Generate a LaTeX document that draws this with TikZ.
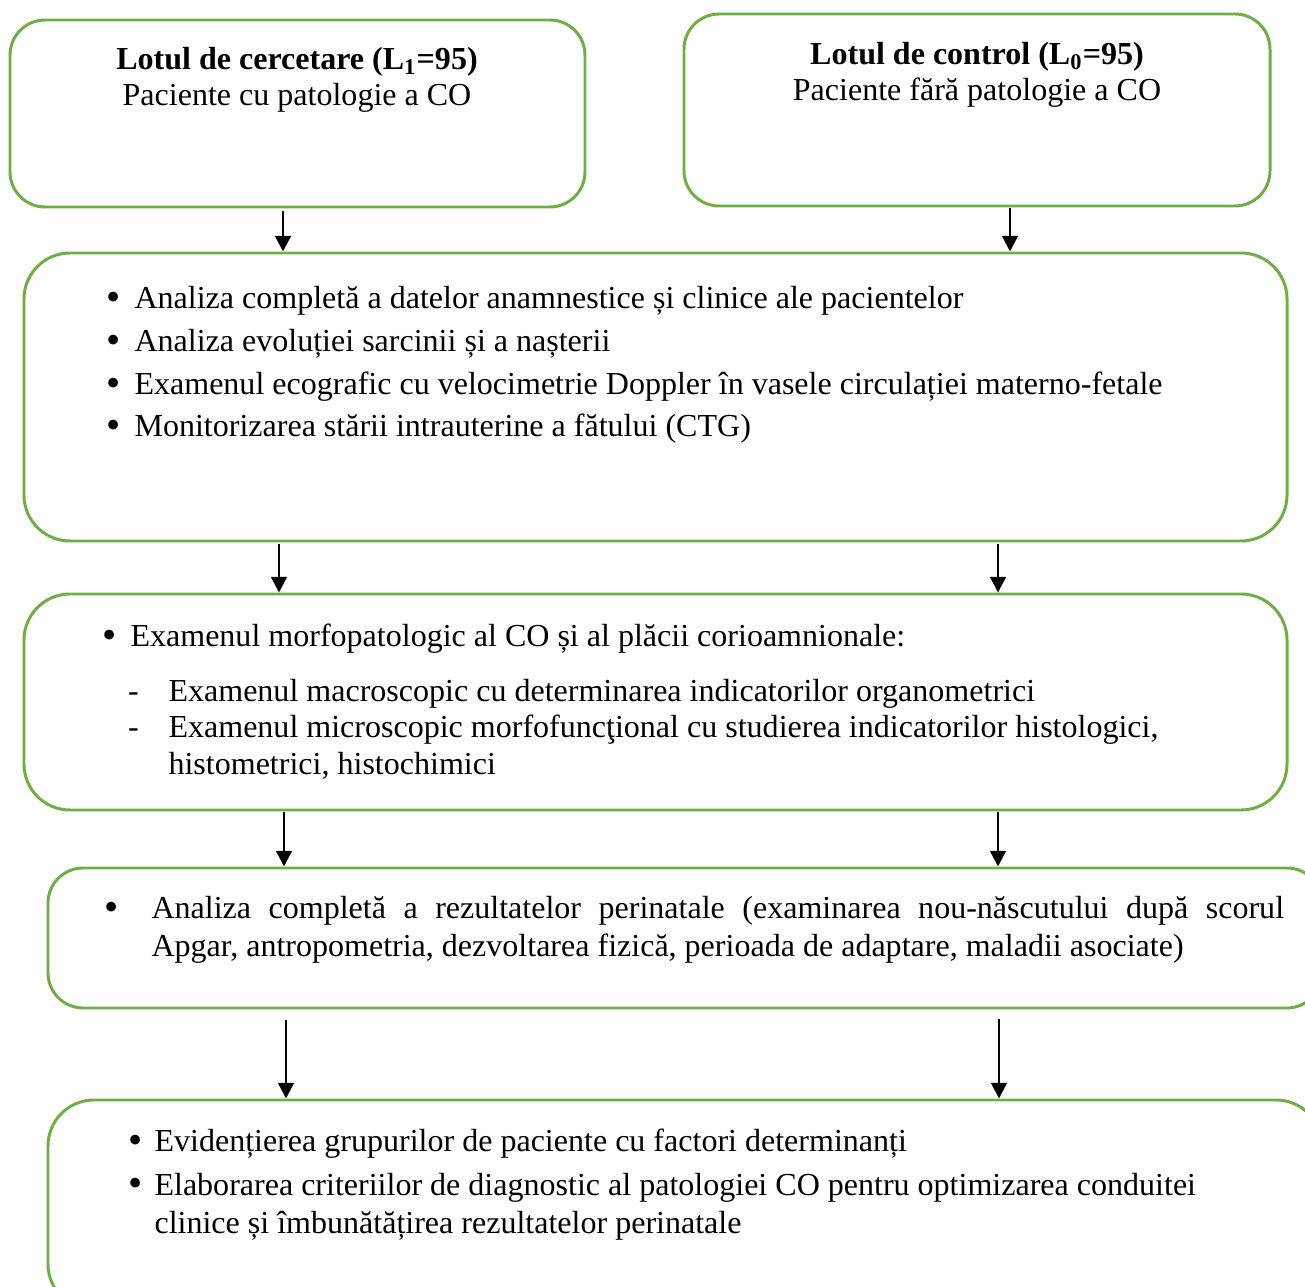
\documentclass[tikz,border=0pt]{standalone}
\usepackage{fontspec}
\setmainfont{Liberation Serif}
\usetikzlibrary{arrows.meta,fit}
\definecolor{boxgreen}{HTML}{70AD47}
\tikzset{
  box/.style={draw=boxgreen, line width=1.1pt, rounded corners=13pt, inner sep=0pt},
  bigbox/.style={box, rounded corners=17pt},
  arr/.style={-{Triangle[length=5.8pt,width=5.8pt]}, line width=0.9pt},
  txt/.style={inner sep=0pt, anchor=base west, font=\fontsize{11.85}{14}\selectfont},
  head/.style={inner sep=0pt, anchor=base, font=\fontsize{11.85}{14}\selectfont},
}
\newcommand{\blt}[1]{\llap{\raisebox{-0.6pt}{\fontsize{15}{15}\selectfont\textbullet}\hspace{#1}}}
\newcommand{\dsh}{\llap{-\hspace{11pt}}}

\begin{document}
\begin{tikzpicture}[x=0.37pt,y=-0.37pt]
\useasboundingbox (0,0) rectangle (1305,1287);
\clip (0,0) rectangle (1305,1287);
% boxes
\node[box, fit={(10,20) (585,207)}] (l1) {};
\node[box, fit={(684,14) (1270,206)}] (l0) {};
\node[bigbox, fit={(24,253) (1287,541)}] (b2) {};
\node[bigbox, fit={(24,594) (1287,810)}] (b3) {};
\node[box, fit={(48,868) (1322,1008)}] (b4) {};
\node[bigbox, fit={(48,1100) (1322,1310)}] (b5) {};
% lots
\node[head] (l1a) at (297,70) {\textbf{Lotul de cercetare (L\textsubscript{1}=95)}};
\node[head] (l1b) at (297,106) {Paciente cu patologie a CO};
\node[head] (l0a) at (977,65) {\textbf{Lotul de control (L\textsubscript{0}=95)}};
\node[head] (l0b) at (977,101) {Paciente fără patologie a CO};
% investigatii
\node[txt] (b2a) at (134,309) {\blt{5pt}Analiza completă a datelor anamnestice și clinice ale pacientelor};
\node[txt] (b2b) at (134,352) {\blt{5pt}Analiza evoluției sarcinii și a nașterii};
\node[txt] (b2c) at (134,395) {\blt{5pt}Examenul ecografic cu velocimetrie Doppler în vasele circulației materno-fetale};
\node[txt] (b2d) at (134,437) {\blt{5pt}Monitorizarea stării intrauterine a fătului (CTG)};
% morfopatologie
\node[txt] (b3a) at (130,647) {\blt{5pt}Examenul morfopatologic al CO și al plăcii corioamnionale:};
\node[txt] (b3b) at (168,702) {\dsh Examenul macroscopic cu determinarea indicatorilor organometrici};
\node[txt] (b3c) at (168,738) {\dsh Examenul microscopic morfofuncţional cu studierea indicatorilor histologici,};
\node[txt] (b3d) at (168,775) {histometrici, histochimici};
% rezultate perinatale
\node[txt] (b4a) at (151,919) {\blt{12pt}\makebox[419pt][s]{Analiza completă a rezultatelor perinatale (examinarea nou-născutului după scorul}};
\node[txt] (b4b) at (151,957) {Apgar, antropometria, dezvoltarea fizică, perioada de adaptare, maladii asociate)};
% concluzii
\node[txt] (b5a) at (154,1152) {\blt{4.5pt}Evidențierea grupurilor de paciente cu factori determinanți};
\node[txt] (b5b) at (154,1195) {\blt{4.5pt}Elaborarea criteriilor de diagnostic al patologiei CO pentru optimizarea conduitei};
\node[txt] (b5c) at (154,1233) {clinice și îmbunătățirea rezultatelor perinatale};
% arrows
\coordinate (s1) at (283,211);
\coordinate (s2) at (1010,208);
\coordinate (s3) at (279,544);
\coordinate (s4) at (998,544);
\coordinate (s5) at (284,812);
\coordinate (s6) at (998,812);
\coordinate (s7) at (286,1020);
\coordinate (s8) at (999,1019);
\draw[arr] (s1) -- (s1 |- b2.north);
\draw[arr] (s2) -- (s2 |- b2.north);
\draw[arr] (s3) -- (s3 |- b3.north);
\draw[arr] (s4) -- (s4 |- b3.north);
\draw[arr] (s5) -- (s5 |- b4.north);
\draw[arr] (s6) -- (s6 |- b4.north);
\draw[arr] (s7) -- (s7 |- b5.north);
\draw[arr] (s8) -- (s8 |- b5.north);
\end{tikzpicture}
\end{document}
